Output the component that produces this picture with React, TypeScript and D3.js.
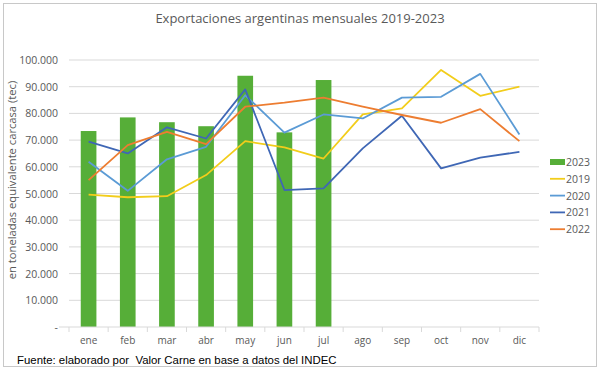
// App.tsx
// Monthly Argentine beef exports 2019-2023: bars for 2023, lines for earlier years
import React, { useEffect, useRef } from "react";
import * as d3 from "d3";

const months = ["ene", "feb", "mar", "abr", "may", "jun", "jul", "ago", "sep", "oct", "nov", "dic"];

const exp2023 = [73400, 78500, 76700, 75200, 94100, 72900, 92500];
const exp2019 = [49600, 48600, 49000, 56900, 69600, 67300, 63100, 79600, 81900, 96300, 86600, 90000];
const exp2020 = [61900, 51000, 62800, 67500, 86800, 72800, 79600, 78100, 85900, 86200, 94800, 72100];
const exp2021 = [69400, 65000, 74800, 70600, 89000, 51300, 51900, 66900, 79100, 59400, 63400, 65600];
const exp2022 = [55000, 68100, 73100, 68500, 82500, 84000, 85900, 82500, 79400, 76500, 81600, 69600];

const yTicks = [0, 10000, 20000, 30000, 40000, 50000, 60000, 70000, 80000, 90000, 100000];

const lineSeries = [
  { name: "2019", values: exp2019, color: "#F2CD1B" },
  { name: "2020", values: exp2020, color: "#5B9BD5" },
  { name: "2021", values: exp2021, color: "#3F67B5" },
  { name: "2022", values: exp2022, color: "#ED7D31" },
];

const fmt = (v: number) => (v === 0 ? "-" : d3.format(",")(v).replace(/,/g, "."));

export default function App() {
  const svgRef = useRef<SVGSVGElement>(null);

  useEffect(() => {
    if (!svgRef.current) return;
    const width = 600, height = 370;
    const left = 69, right = 539, top = 60, bottom = 327;
    const font = "'Open Sans', 'Liberation Sans', sans-serif";
    const grey = "#595959";

    const svg = d3.select(svgRef.current);
    svg.selectAll("*").remove();

    // frame
    svg.append("rect")
      .attr("x", 3.5).attr("y", 3.5)
      .attr("width", width - 7).attr("height", height - 7)
      .attr("fill", "#fff")
      .attr("stroke", "#c8c8c8");

    const x = d3.scaleBand().domain(months).range([left, right]);
    const y = d3.scaleLinear().domain([0, 100000]).range([bottom, top]);

    // gridlines
    svg.append("g")
      .selectAll("line")
      .data(yTicks.filter(d => d > 0))
      .enter()
      .append("line")
      .attr("x1", left).attr("x2", right)
      .attr("y1", d => y(d)).attr("y2", d => y(d))
      .attr("stroke", "#d9d9d9")
      .attr("stroke-width", 1);

    // y labels
    svg.append("g")
      .selectAll("text")
      .data(yTicks)
      .enter()
      .append("text")
      .attr("x", 58)
      .attr("y", d => y(d) + 4)
      .attr("text-anchor", "end")
      .attr("font-family", font)
      .attr("font-size", 10.5)
      .attr("fill", grey)
      .text(d => fmt(d));

    // bars 2023
    const barW = x.bandwidth() / 2.5;
    svg.append("g")
      .selectAll("rect")
      .data(exp2023)
      .enter()
      .append("rect")
      .attr("x", (d, i) => (x(months[i]) as number) + (x.bandwidth() - barW) / 2)
      .attr("y", d => y(d))
      .attr("width", barW)
      .attr("height", d => bottom - y(d))
      .attr("fill", "#56AE38");

    // x axis
    const axis = svg.append("g").attr("transform", `translate(0,${bottom})`);
    axis.append("line")
      .attr("x1", left - 10).attr("x2", right)
      .attr("stroke", "#d9d9d9");
    axis.selectAll("line.tick")
      .data(d3.range(months.length + 1))
      .enter()
      .append("line")
      .attr("class", "tick")
      .attr("x1", i => left + i * x.step())
      .attr("x2", i => left + i * x.step())
      .attr("y1", 0).attr("y2", 5)
      .attr("stroke", "#d9d9d9");
    axis.selectAll("text")
      .data(months)
      .enter()
      .append("text")
      .attr("x", d => (x(d) as number) + x.bandwidth() / 2)
      .attr("y", 17)
      .attr("text-anchor", "middle")
      .attr("font-family", font)
      .attr("font-size", 10)
      .attr("fill", grey)
      .text(d => d);

    // lines
    const line = d3.line<number>()
      .x((d, i) => (x(months[i]) as number) + x.bandwidth() / 2)
      .y(d => y(d));
    lineSeries.forEach(s => {
      svg.append("path")
        .datum(s.values)
        .attr("fill", "none")
        .attr("stroke", s.color)
        .attr("stroke-width", 1.8)
        .attr("stroke-linejoin", "round")
        .attr("d", line);
    });

    // title
    svg.append("text")
      .attr("x", 300).attr("y", 23)
      .attr("text-anchor", "middle")
      .attr("font-family", font)
      .attr("font-size", 13)
      .attr("fill", grey)
      .text("Exportaciones argentinas mensuales 2019-2023");

    // y axis title
    svg.append("text")
      .attr("transform", "translate(16,180) rotate(-90)")
      .attr("text-anchor", "middle")
      .attr("font-family", font)
      .attr("font-size", 11.2)
      .attr("fill", grey)
      .text("en toneladas equivalente carcasa (tec)");

    // legend
    const legend = [{ name: "2023", color: "#56AE38", bar: true }]
      .concat(lineSeries.map(s => ({ name: s.name, color: s.color, bar: false })));
    const lg = svg.append("g");
    legend.forEach((l, i) => {
      const ly = 162 + i * 16.8;
      if (l.bar) {
        lg.append("rect")
          .attr("x", 550).attr("y", ly - 3)
          .attr("width", 15).attr("height", 6)
          .attr("fill", l.color);
      } else {
        lg.append("line")
          .attr("x1", 550).attr("x2", 565)
          .attr("y1", ly).attr("y2", ly)
          .attr("stroke", l.color)
          .attr("stroke-width", 1.8);
      }
      lg.append("text")
        .attr("x", 566).attr("y", ly + 4)
        .attr("font-family", font)
        .attr("font-size", 10.5)
        .attr("fill", grey)
        .text(l.name);
    });

    // source note
    svg.append("text")
      .attr("x", 17).attr("y", 364)
      .attr("font-family", "'Liberation Sans', Arial, sans-serif")
      .attr("font-size", 11.4)
      .attr("fill", "#000")
      .text("Fuente: elaborado por  Valor Carne en base a datos del INDEC")
      .style("white-space", "pre");
  }, []);

  return (
    <svg
      ref={svgRef}
      width={600}
      height={370}
      style={{ position: "absolute", left: 0, top: 0, background: "#fff" }}
    />
  );
}
